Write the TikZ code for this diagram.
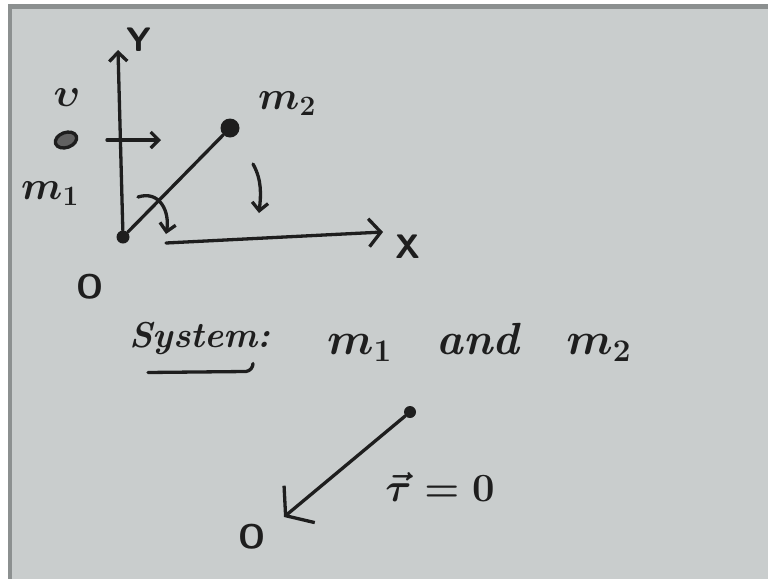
\RequirePackage{fix-cm}
\documentclass[tikz,border=0pt]{standalone}
\usepackage{amsmath}
\usepackage{xcolor}
\definecolor{boardgrey}{HTML}{C9CDCD}
\definecolor{boardedge}{HTML}{8C9090}
\definecolor{inkblack}{HTML}{1E1E1E}
\usetikzlibrary{arrows.meta,calc,shapes.geometric}

\begin{document}
\begin{tikzpicture}[x=1pt, y=-1pt,
  ink/.style={draw=inkblack, line width=3.3pt, line cap=round, line join=round},
  a/.style={ink, -{Straight Barb[length=9pt, width=18pt]}},
  mass/.style={circle, fill=inkblack, inner sep=0pt},
  lab/.style={text=inkblack, inner sep=1pt},
  big/.style={lab, font=\fontsize{34}{40}\selectfont\sffamily\bfseries},
  hand/.style={lab, font=\fontsize{40}{46}\selectfont\boldmath},
]
% ---------------- board and its frame
\fill[white] (0,0) rectangle (768,579);
\fill[boardgrey] (8,4) rectangle (768,579);
\fill[boardedge] (8,4) rectangle (768,9);
\fill[boardedge] (8,4) rectangle (12,579);
\useasboundingbox (0,0) rectangle (768,579);
% ---------------- axes with the origin
\node[mass, minimum size=13pt] (O) at (123,237) {};
\coordinate (ytip) at (118,50);
\coordinate (xtail) at (166,243);
\coordinate (xtip) at (383,232);
\draw[a] (O) -- (ytip);
\draw[a, -{Straight Barb[length=12pt, width=28pt]}] (xtail) -- (xtip);
\node[big] (ylab) at (139,40) {Y};
\node[big] (xlab) at (408,247) {X};
\node[big] (olab) at (90,287) {O};
% ---------------- mass m1 and its velocity
\node[ellipse, draw=inkblack, line width=3.3pt, fill=inkblack!70, minimum width=22pt, minimum height=15pt, inner sep=0pt, rotate=20] (m1) at (66,140) {};
\node[hand] (vlab) at (67,98) {$\upsilon$};
\node[hand] (m1lab) at (50,194) {$m_{1}$};
\coordinate (vtail) at (107,140);
\coordinate (vtip) at (161,140);
\draw[a, -{Straight Barb[length=8pt, width=16pt]}] (vtail) -- (vtip);
% ---------------- mass m2 on the rod
\node[mass, minimum size=19pt] (m2) at (230,128) {};
\node[hand] (m2lab) at (287,104) {$m_{2}$};
\draw[ink] (O) -- (m2);
% ---------------- turning arrows
\coordinate (turnA) at (138,197);
\coordinate (turnB) at (166,234);
\draw[a, -{Straight Barb[length=8pt, width=16pt]}] (turnA) .. controls (160,190) and (170,212) .. (turnB);
\coordinate (fallA) at (253,164);
\coordinate (fallB) at (259,213);
\draw[a, -{Straight Barb[length=8pt, width=16pt]}] (fallA) .. controls (262,180) and (261,195) .. (fallB);
% ---------------- the system
\node[hand, font=\fontsize{36}{42}\selectfont\itshape\bfseries] (sys) at (200,338) {System:};
\draw[ink] ($(sys.south)+(-52,17)$) -- ($(sys.south)+(46,16)$) to[bend right=40] ($(sys.south)+(53,8)$);
\node[hand, font=\fontsize{45}{52}\selectfont\boldmath, anchor=west] (pair) at (326,342) {$m_{1}$\quad\textit{\bfseries and}\quad$m_{2}$};
% ---------------- torque about O
\node[mass, minimum size=12pt] (p) at (410,412) {};
\node[big] (o2lab) at (252,537) {O};
\coordinate (tauTip) at (284,517);
\draw[ink, -{Straight Barb[length=18pt, width=48pt]}] (p) -- (tauTip);
\node[hand] (taulab) at (440,487) {$\vec{\tau}=0$};
\end{tikzpicture}
\end{document}
